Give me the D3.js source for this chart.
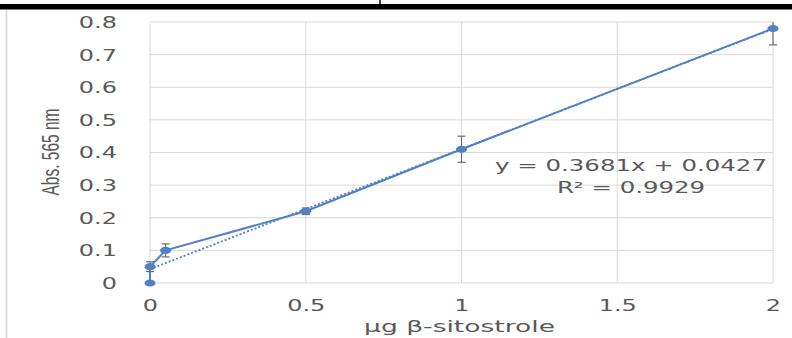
<!DOCTYPE html>
<html>
<head>
<meta charset="utf-8">
<script src="https://cdn.jsdelivr.net/npm/d3@7"></script>
<style>
  body { margin: 0; background: #fff; }
  svg { display: block; }
  .tick text { font-family: "DejaVu Sans", sans-serif; font-size: 15px; fill: #595959; }
</style>
</head>
<body>
<div id="chart"></div>
<script>
// data
const concentration = [0, 0, 0.05, 0.5, 1, 2];        // µg β-sitostrole
const absorbance    = [0, 0.05, 0.1, 0.22, 0.41, 0.78];
const errors        = [0, 0.015, 0.02, 0.01, 0.04, 0.05];
const xTicks = [0, 0.5, 1, 1.5, 2];
const yTicks = [0, 0.1, 0.2, 0.3, 0.4, 0.5, 0.6, 0.7, 0.8];
const trendSlope = 0.3681;
const trendIntercept = 0.0427;
const eqLines = ["y = 0.3681x + 0.0427", "R² = 0.9929"];

const W = 792, H = 338;
const stretch = 1.6; // text in the picture is stretched sideways
const blue = "#4f81c4";
const grey = "#595959";

const svg = d3.select("#chart").append("svg")
  .attr("width", W).attr("height", H);

// page frame bits
svg.append("rect").attr("x", 0).attr("y", 4).attr("width", W).attr("height", 5.5).attr("fill", "#000");
svg.append("line").attr("x1", 380).attr("x2", 380).attr("y1", 0).attr("y2", 4)
  .attr("stroke", "#000").attr("stroke-width", 1.5);
svg.append("line").attr("x1", 6.5).attr("x2", 6.5).attr("y1", 10).attr("y2", H)
  .attr("stroke", "#d4d4d4").attr("stroke-width", 1.5);

const margin = { top: 22, right: 19, bottom: 55, left: 150 };
const width = W - margin.left - margin.right;
const height = H - margin.top - margin.bottom;

const x = d3.scaleLinear().domain([0, 2]).range([0, width]);
const y = d3.scaleLinear().domain([0, 0.8]).range([height, 0]);

const g = svg.append("g").attr("transform", `translate(${margin.left},${margin.top})`);

g.append("defs").append("clipPath").attr("id", "plot")
  .append("rect").attr("x", -8).attr("y", 0).attr("width", width + 16).attr("height", height + 8);

// gridlines
g.append("g").selectAll("line.h").data(yTicks).join("line")
  .attr("x1", 0).attr("x2", width)
  .attr("y1", d => y(d)).attr("y2", d => y(d))
  .attr("stroke", "#d9d9d9").attr("stroke-width", 1);
g.append("g").selectAll("line.v").data(xTicks).join("line")
  .attr("x1", d => x(d)).attr("x2", d => x(d))
  .attr("y1", 0).attr("y2", height)
  .attr("stroke", "#d9d9d9").attr("stroke-width", 1);

// axes (labels only)
const yAxis = g.append("g")
  .call(d3.axisLeft(y).tickValues(yTicks).tickFormat(d => String(d)).tickSize(0));
yAxis.select(".domain").remove();
yAxis.selectAll("text")
  .attr("x", -33 / stretch).attr("dy", "0.36em")
  .attr("transform", `scale(${stretch},1)`);

const xAxis = g.append("g").attr("transform", `translate(0,${height})`)
  .call(d3.axisBottom(x).tickValues(xTicks).tickFormat(d => String(d)).tickSize(0));
xAxis.select(".domain").remove();
xAxis.selectAll("text")
  .attr("y", 28).attr("dy", 0)
  .attr("transform", `scale(${stretch},1)`);

// axis titles
svg.append("text")
  .attr("transform", `translate(${margin.left + width / 2 - 2},332) scale(1.77,1)`)
  .attr("text-anchor", "middle")
  .attr("font-family", "DejaVu Sans, sans-serif").attr("font-size", 15).attr("fill", grey)
  .text("μg β-sitostrole");

svg.append("text")
  .attr("transform", `translate(59,152) scale(${stretch},1) rotate(-90)`)
  .attr("text-anchor", "middle")
  .attr("font-family", "Liberation Sans, sans-serif").attr("font-size", 15.5).attr("fill", grey)
  .text("Abs. 565 nm");

const pts = concentration.map((c, i) => ({ x: c, y: absorbance[i], e: errors[i] }));

// linear trendline (dotted)
const trend = [0, 2].map(v => ({ x: v, y: trendSlope * v + trendIntercept }));
g.append("path").datum(trend)
  .attr("d", d3.line().x(d => x(d.x)).y(d => y(d.y)))
  .attr("fill", "none").attr("stroke", blue).attr("stroke-width", 1.8)
  .attr("stroke-dasharray", "2,2");

// series line
g.append("path").datum(pts)
  .attr("d", d3.line().x(d => x(d.x)).y(d => y(d.y)))
  .attr("fill", "none").attr("stroke", blue).attr("stroke-width", 2);

// error bars
const eb = g.append("g").attr("clip-path", "url(#plot)")
  .selectAll("g").data(pts.filter(d => d.e > 0)).join("g");
eb.append("line")
  .attr("x1", d => x(d.x)).attr("x2", d => x(d.x))
  .attr("y1", d => y(d.y - d.e)).attr("y2", d => y(d.y + d.e))
  .attr("stroke", "#6f6f6f").attr("stroke-width", 1.2);
eb.selectAll("line.cap").data(d => [d.y - d.e, d.y + d.e].map(v => ({ x: d.x, v }))).join("line")
  .attr("x1", d => x(d.x) - 4).attr("x2", d => x(d.x) + 4)
  .attr("y1", d => y(d.v)).attr("y2", d => y(d.v))
  .attr("stroke", "#6f6f6f").attr("stroke-width", 1.2);

// markers
g.append("g").selectAll("ellipse").data(pts).join("ellipse")
  .attr("cx", d => x(d.x)).attr("cy", d => y(d.y))
  .attr("rx", 5.5).attr("ry", 3.6)
  .attr("fill", blue);

// trend equation
const eq = svg.append("g");
eqLines.forEach((t, i) => {
  eq.append("text")
    .attr("transform", `translate(631,${171 + i * 21.5}) scale(1.63,1)`)
    .attr("text-anchor", "middle")
    .attr("font-family", "DejaVu Sans, sans-serif").attr("font-size", 15).attr("fill", grey)
    .text(t);
});
</script>
</body>
</html>
